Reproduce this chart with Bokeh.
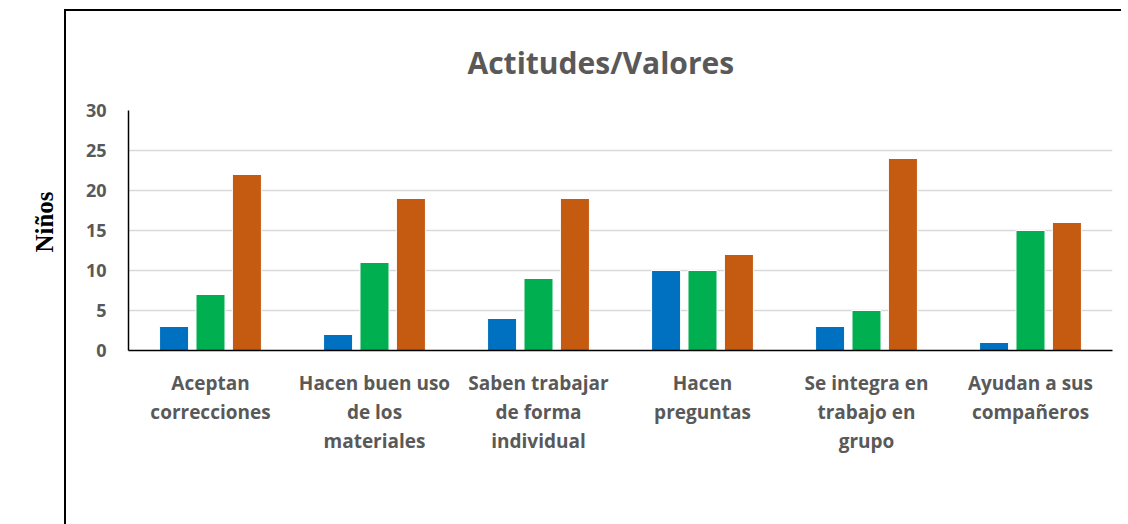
from bokeh.plotting import figure
from bokeh.models import ColumnDataSource, FactorRange, Legend, LegendItem, Div
from bokeh.transform import dodge
from bokeh.layouts import row, column
from bokeh.embed import file_html
from bokeh.resources import INLINE

categories = ["Aceptan\ncorrecciones", "Hacen buen uso\nde los\nmateriales",
              "Saben trabajar\nde forma\nindividual", "Hacen\npreguntas",
              "Se integra en\ntrabajo en\ngrupo", "Ayudan a sus\ncompañeros"]
nunca = [3, 2, 4, 10, 3, 1]
aveces = [7, 11, 9, 10, 5, 15]
siempre = [22, 19, 19, 12, 24, 16]
series_names = ["1: Nunca", "2: Aveces", "3: Siempre"]
series_colors = ["#0070C0", "#00B050", "#C55A11"]
y_ticks = [0, 5, 10, 15, 20, 25, 30]

FONT = "Open Sans"
GREY = "#595959"

source = ColumnDataSource(dict(cat=categories, nunca=nunca, aveces=aveces, siempre=siempre))

p = figure(x_range=FactorRange(*categories), y_range=(0, 30),
           frame_width=984, frame_height=240, output_backend="svg", toolbar_location=None,
           min_border_left=62, min_border_right=8, min_border_top=99, min_border_bottom=156,
           margin=0)

offsets = [-0.222, 0.0, 0.222]
cols = ["nunca", "aveces", "siempre"]
rends = []
for col, off, c in zip(cols, offsets, series_colors):
    r = p.vbar(x=dodge("cat", off, range=p.x_range), top=col, width=0.177, source=source,
               fill_color=c, line_color="white", line_width=1)
    rends.append(r)

p.title.text = "Actitudes/Valores"
p.title.text_font = FONT
p.title.text_font_size = "30px"
p.title.text_font_style = "bold"
p.title.text_color = GREY
p.title.align = "left"
p.title.offset = 339
p.title.standoff = 56

p.outline_line_color = None
p.xgrid.grid_line_color = None
p.ygrid.grid_line_color = "#D9D9D9"
p.ygrid.grid_line_width = 1.5

p.yaxis.ticker = y_ticks
for ax in (p.xaxis[0], p.yaxis[0]):
    ax.major_tick_line_color = None
    ax.minor_tick_line_color = None
    ax.major_label_text_font = FONT
    ax.major_label_text_font_size = "18px"
    ax.major_label_text_font_style = "bold"
    ax.major_label_text_color = GREY
    ax.axis_line_color = "black"
    ax.axis_line_width = 1.5
p.yaxis.major_label_standoff = 16
p.xaxis.major_label_standoff = 13
p.xaxis.major_label_text_font_size = "19px"
p.xaxis.major_label_text_line_height = 1.12

legend = Legend(items=[LegendItem(label=n, renderers=[r]) for n, r in zip(series_names, rends)],
                orientation="horizontal", location="center")
legend.label_text_font = FONT
legend.label_text_font_size = "17px"
legend.label_text_font_style = "bold"
legend.label_text_color = GREY
legend.glyph_width = 13
legend.glyph_height = 13
legend.label_standoff = 8
legend.spacing = 28
legend.padding = 6
legend.margin = 0
legend.border_line_color = None
legend.background_fill_color = None
p.add_layout(legend, "below")

ylab = Div(text='<div style="position:absolute; left:45px; top:222px; transform:translate(-50%,-50%) rotate(-90deg); '
                'font-family:\'Liberation Serif\'; font-weight:bold; font-size:25px; color:black; white-space:nowrap;">Niños</div>',
           width=64, height=524, margin=0)
vline = Div(text="", width=2, height=515, margin=(9, 0, 0, 0), styles={"background-color": "black"})
hline = Div(text="", width=1055, height=2, margin=(9, 0, 0, 0), styles={"background-color": "black"})

layout = row(ylab, vline, column(hline, p, spacing=0, margin=0), spacing=0, margin=0)
open("out.html", "w").write(file_html(layout, INLINE))
